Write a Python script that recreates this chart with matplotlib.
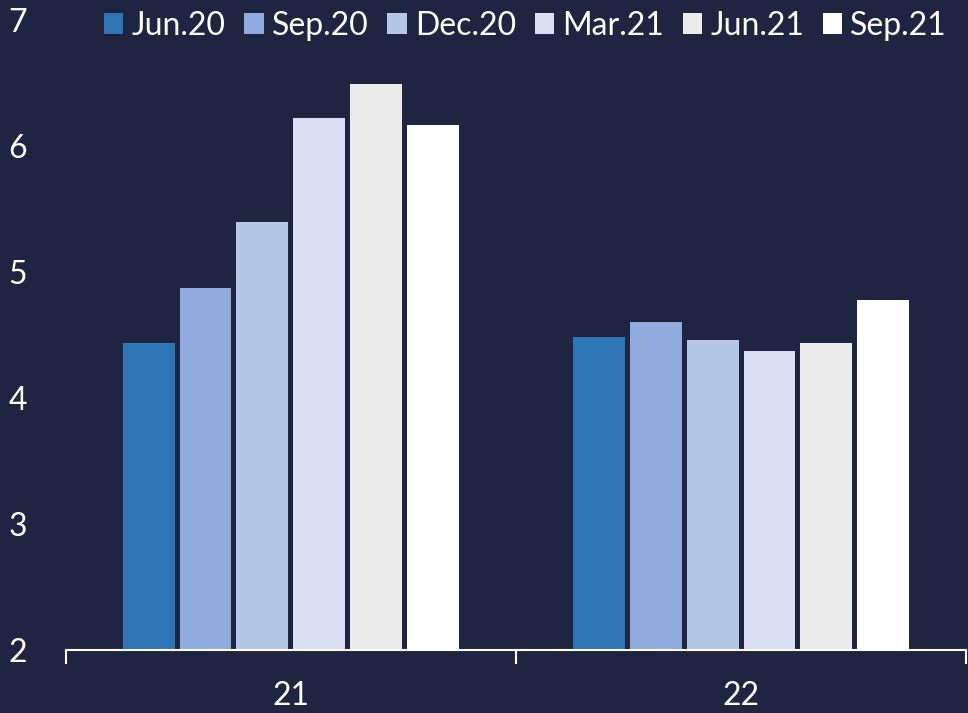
import matplotlib.pyplot as plt
import numpy as np

plt.rcParams["font.family"] = ["Lato", "DejaVu Sans"]

# 범주(연도)와 시점별 전망치
categories = ["21", "22"]
series_names = ["Jun.20", "Sep.20", "Dec.20", "Mar.21", "Jun.21", "Sep.21"]
values_21 = [4.44, 4.87, 5.40, 6.22, 6.49, 6.17]
values_22 = [4.48, 4.60, 4.46, 4.37, 4.44, 4.78]
colors = ["#2e75b6", "#8faadc", "#b4c7e7", "#dae0f3", "#ebebeb", "#ffffff"]

bg = "#1f2440"
fig = plt.figure(figsize=(9.68, 7.13), dpi=100, facecolor=bg)
ax = fig.add_axes([0.068, 0.0884, 0.93, 0.8836], facecolor=bg)

x = np.arange(len(categories))
step = 0.1265
width = 0.1154
for i, name in enumerate(series_names):
    vals = [values_21[i], values_22[i]]
    ax.bar(x + (i - 2.5) * step, vals, width=width, color=colors[i],
           label=name, zorder=2)

ax.set_xlim(-0.5, 1.5)
ax.set_ylim(2, 7)
ax.set_yticks([2, 3, 4, 5, 6, 7])
ax.set_xticks(x)
ax.set_xticklabels(categories)
ax.set_xticks([-0.5, 0.5, 1.5], minor=True)

for s in ["top", "right", "left"]:
    ax.spines[s].set_visible(False)
ax.spines["bottom"].set_color("white")
ax.spines["bottom"].set_linewidth(1.5)

ax.tick_params(axis="y", length=0, pad=28, labelsize=23, labelcolor="white")
ax.tick_params(axis="x", which="major", length=0, pad=22, labelsize=23,
               labelcolor="white")
ax.tick_params(axis="x", which="minor", length=10, width=1.5, color="white")

# 범례: 상단 한 줄
leg = ax.legend(loc="upper right", bbox_to_anchor=(0.993, 1.035), ncol=6,
                frameon=False, fontsize=23, handlelength=0.6,
                handleheight=0.6, handletextpad=0.25, columnspacing=0.6,
                borderaxespad=0)
for t in leg.get_texts():
    t.set_color("white")

fig.savefig("out.png", dpi=100, facecolor=bg)
